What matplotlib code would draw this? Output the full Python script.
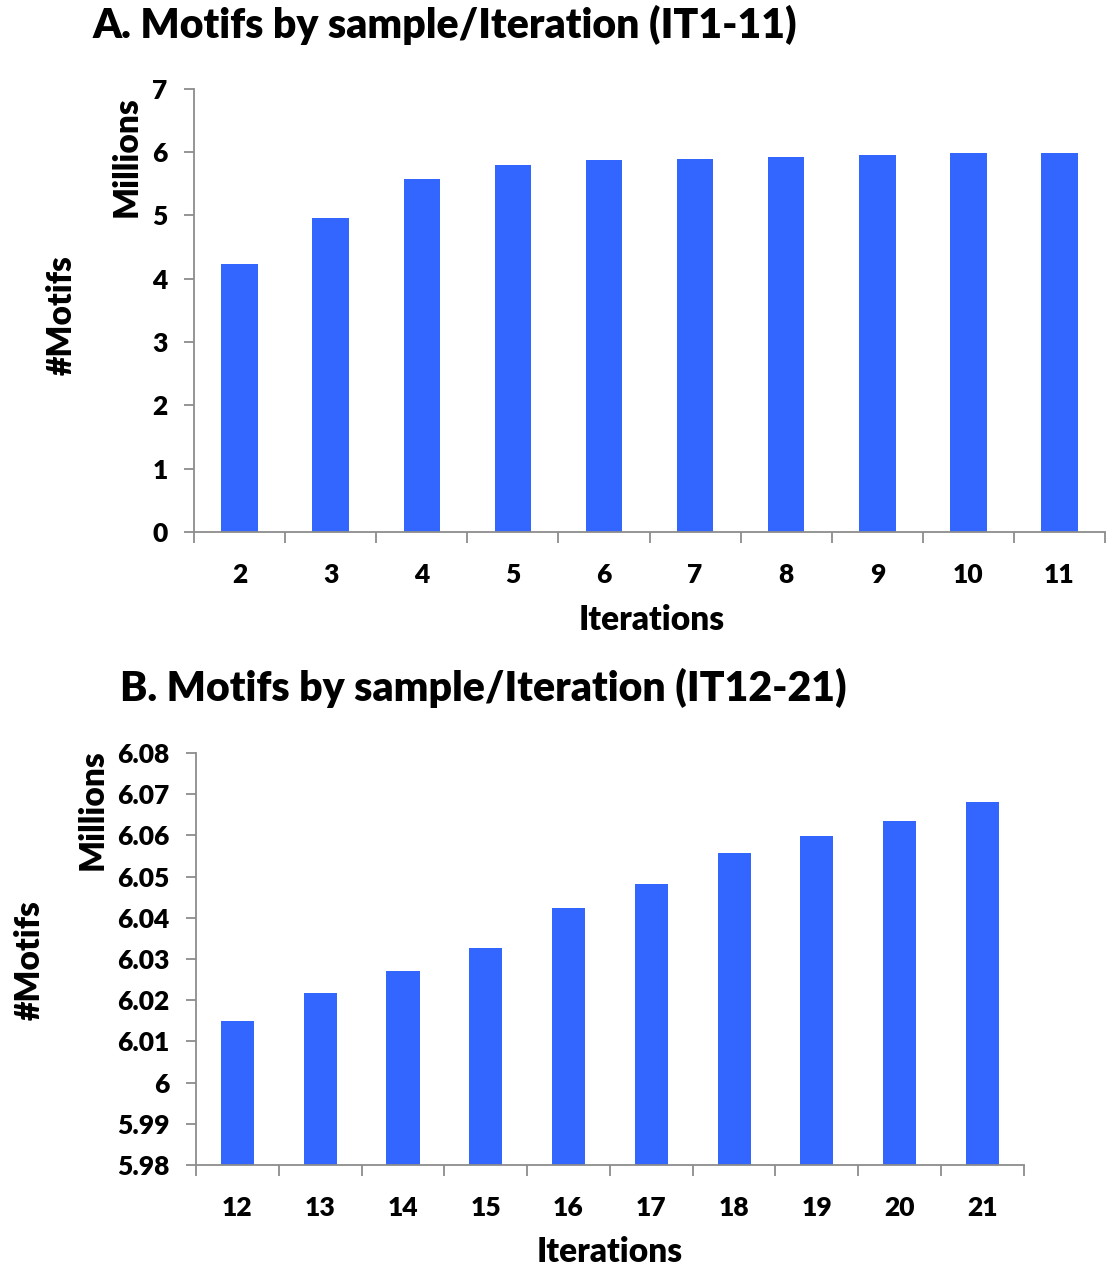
import numpy as np
import matplotlib.pyplot as plt
from matplotlib.ticker import FuncFormatter

# Panel A: iterations 2-11 (millions of motifs)
iters_a = ['2', '3', '4', '5', '6', '7', '8', '9', '10', '11']
motifs_a = [4.23, 4.96, 5.58, 5.79, 5.87, 5.90, 5.92, 5.95, 5.98, 5.98]

# Panel B: iterations 12-21 (millions of motifs)
iters_b = ['12', '13', '14', '15', '16', '17', '18', '19', '20', '21']
motifs_b = [6.0149, 6.0217, 6.0272, 6.0327, 6.0424, 6.0483, 6.0557, 6.0598, 6.0635, 6.0680]

bar_color = '#3366ff'
axis_color = '#8c8c8c'
font = 'Lato'
wt = 'heavy'

plt.rcParams['font.family'] = [font, 'DejaVu Sans']

fig = plt.figure(figsize=(11.14, 12.72), dpi=100)


def style_axes(ax, labels, values, ylim, yticks):
    x = np.arange(len(labels))
    ax.bar(x, values, width=0.4, color=bar_color, zorder=2)
    ax.set_xlim(-0.5, len(labels) - 0.5)
    ax.set_ylim(*ylim)
    ax.set_yticks(yticks)
    ax.yaxis.set_major_formatter(FuncFormatter(lambda v, p: f'{round(v, 2):g}'))
    ax.set_xticks(x)
    ax.set_xticklabels(labels)
    ax.set_xticks(np.arange(-0.5, len(labels), 1), minor=True)
    for s in ['top', 'right']:
        ax.spines[s].set_visible(False)
    for s in ['left', 'bottom']:
        ax.spines[s].set_color(axis_color)
        ax.spines[s].set_linewidth(1.3)
    ax.tick_params(axis='x', which='major', length=0, pad=22, labelsize=19)
    ax.tick_params(axis='x', which='minor', length=8, width=1.3, color=axis_color, direction='out')
    ax.tick_params(axis='y', length=7, width=1.3, color=axis_color, direction='out', pad=12, labelsize=19)
    for t in ax.get_xticklabels() + ax.get_yticklabels():
        t.set_fontweight(wt)


# Panel A
ax1 = fig.add_axes([0.1742, 0.5818, 0.8178, 0.3483])
style_axes(ax1, iters_a, motifs_a, (0, 7), np.arange(0, 8, 1))
fig.text(93 / 1114, 1 - 25 / 1272, 'A. Motifs by sample/Iteration (IT1-11)',
         fontsize=29.5, fontweight=wt, ha='left', va='center')
fig.text(127 / 1114, 1 - 157 / 1272, 'Millions', rotation=90, fontsize=24,
         fontweight=wt, ha='center', va='center')
fig.text(62 / 1114, 1 - 315 / 1272, '#Motifs', rotation=90, fontsize=24,
         fontweight=wt, ha='center', va='center')
fig.text(652 / 1114, 1 - 620 / 1272, 'Iterations', fontsize=24,
         fontweight=wt, ha='center', va='center')

# Panel B
ax2 = fig.add_axes([0.176, 0.0841, 0.743, 0.324])
style_axes(ax2, iters_b, motifs_b, (5.98, 6.08), np.linspace(5.98, 6.08, 11))
fig.text(120 / 1114, 1 - 688 / 1272, 'B. Motifs by sample/Iteration (IT12-21)',
         fontsize=29.5, fontweight=wt, ha='left', va='center')
fig.text(93 / 1114, 1 - 810 / 1272, 'Millions', rotation=90, fontsize=24,
         fontweight=wt, ha='center', va='center')
fig.text(30 / 1114, 1 - 960 / 1272, '#Motifs', rotation=90, fontsize=24,
         fontweight=wt, ha='center', va='center')
fig.text(610 / 1114, 1 - 1252 / 1272, 'Iterations', fontsize=24,
         fontweight=wt, ha='center', va='center')

fig.savefig('out.png', dpi=100)
